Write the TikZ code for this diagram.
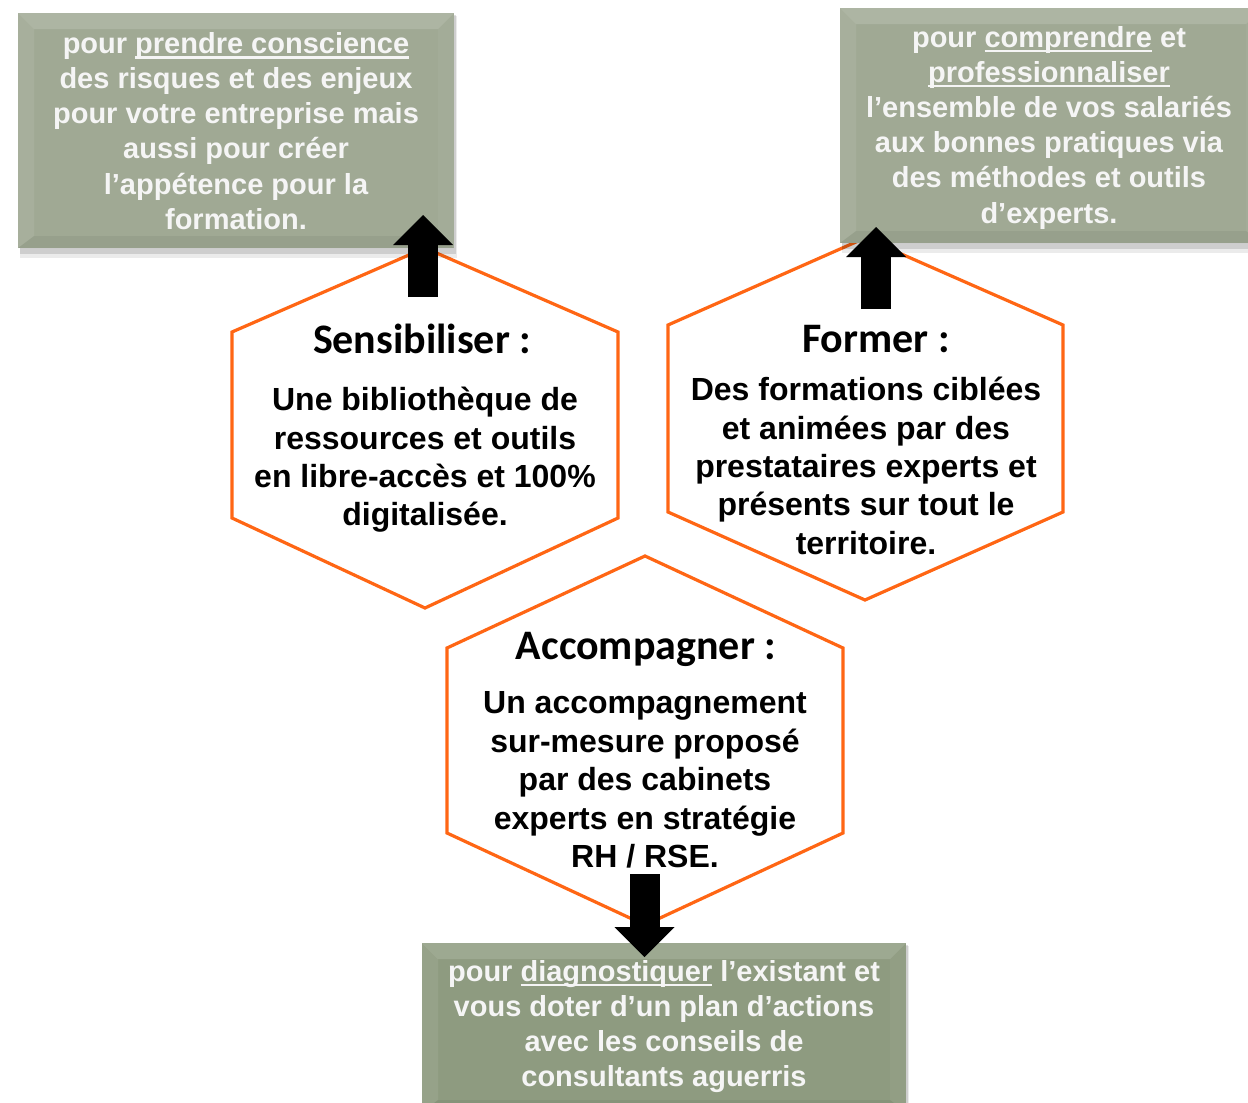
\documentclass[tikz,border=0pt]{standalone}
\usepackage{fontspec}
\setmainfont{Liberation Sans}
\newfontfamily\titlefont{Carlito}
\usetikzlibrary{arrows.meta}
\definecolor{hexorange}{RGB}{255,102,20}
\definecolor{boxA}{RGB}{160,169,148}
\definecolor{boxB}{RGB}{142,155,128}
\definecolor{boxtext}{RGB}{245,245,245}
\newlength\ulw
\newcommand\myul[1]{\settowidth\ulw{#1}\rlap{\rule[-2.6pt]{\ulw}{1.1pt}}#1}
\newcommand\gbox[5]{%
  \fill[black,opacity=0.08] (#1+2,#2+3) rectangle (#3+3,#4+10);
  \fill[black,opacity=0.12] (#1+2,#2+2) rectangle (#3+2,#4+6);
  \fill[#5] (#1,#2) rectangle (#3,#4);
  \fill[white,opacity=0.14] (#1,#2) -- (#3,#2) -- (#3-16,#2+16) -- (#1+16,#2+16) -- cycle;
  \fill[white,opacity=0.08] (#1,#2) -- (#1+16,#2+16) -- (#1+16,#4-12) -- (#1,#4) -- cycle;
  \fill[white,opacity=0.04] (#3,#2) -- (#3,#4) -- (#3-16,#4-12) -- (#3-16,#2+16) -- cycle;
  \fill[black,opacity=0.05] (#1,#4) -- (#3,#4) -- (#3-16,#4-12) -- (#1+16,#4-12) -- cycle;
}
\tikzset{
  hexa/.style={draw=hexorange, line width=1.6pt, fill=white, line join=miter},
  hextitle/.style={font=\titlefont\bfseries\fontsize{21}{25}\selectfont, text=black, inner sep=0pt},
  hexbody/.style={font=\bfseries\fontsize{16}{19.2}\selectfont, text=black, align=center, inner sep=0pt},
  boxtxt/.style={font=\bfseries\fontsize{14.5}{17.6}\selectfont, text=boxtext, align=center, inner sep=0pt},
  blockarrow/.style={line width=15pt, black, -{Triangle[width=30pt,length=15pt,line width=0pt]}}
}
\begin{document}
\begin{tikzpicture}[x=0.5pt,y=-0.5pt]
\useasboundingbox (0,0) rectangle (1248,1103);
\fill[white] (0,0) rectangle (1248,1103);

% hexagons
\draw[hexa] (425,248) coordinate (sTop) -- (618,332) -- (618,518) -- (425,608) coordinate (sBot) -- (232,518) -- (232,332) -- cycle;
\draw[hexa] (865,238) coordinate (fTop) -- (1063,325) -- (1063,512) -- (865,600) coordinate (fBot) -- (668,512) -- (668,325) -- cycle;
\draw[hexa] (645,556) coordinate (aTop) -- (843,648) -- (843,833) -- (645,925) coordinate (aBot) -- (447,833) -- (447,648) -- cycle;

% green boxes
\gbox{18}{13}{454}{248}{boxA}
\gbox{840}{8}{1262}{243}{boxA}
\gbox{422}{943}{906}{1112}{boxB}

\node[boxtxt] (b1) at (236,131) {pour \myul{prendre conscience}\\des risques et des enjeux\\pour votre entreprise mais\\aussi pour créer\\l’appétence pour la\\formation.};
\node[boxtxt] (b2) at (1049,127.5) {pour \myul{comprendre} et\\\myul{professionnaliser}\\l’ensemble de vos salariés\\aux bonnes pratiques via\\des méthodes et outils\\d’experts.};
\node[boxtxt] (b3) at (664,1026.5) {pour \myul{diagnostiquer} l’existant et\\vous doter d’un plan d’actions\\avec les conseils de\\consultants aguerris};

% hexagon texts
\node[hextitle] (st) at (422,339) {Sensibiliser :};
\node[hexbody] (sb) at (425,460) {Une bibliothèque de\\ressources et outils\\en libre-accès et 100\%\\digitalisée.};
\node[hextitle] (ft) at (876,339) {Former :};
\node[hexbody] (fb) at (866,466) {Des formations ciblées\\et animées par des\\prestataires experts et\\présents sur tout le\\territoire.};
\node[hextitle] (at) at (646,649) {Accompagner :};
\node[hexbody] (ab) at (645,780) {Un accompagnement\\sur-mesure proposé\\par des cabinets\\experts en stratégie\\RH / RSE.};

% arrows
\coordinate (s0) at (423,297); \coordinate (s1) at (423,215);
\coordinate (f0) at (876,309); \coordinate (f1) at (876,227);
\coordinate (a0) at (644.5,874); \coordinate (a1) at (644.5,957);
\draw[blockarrow] (s0) -- (s1);
\draw[blockarrow] (f0) -- (f1);
\draw[blockarrow] (a0) -- (a1);
\end{tikzpicture}
\end{document}
